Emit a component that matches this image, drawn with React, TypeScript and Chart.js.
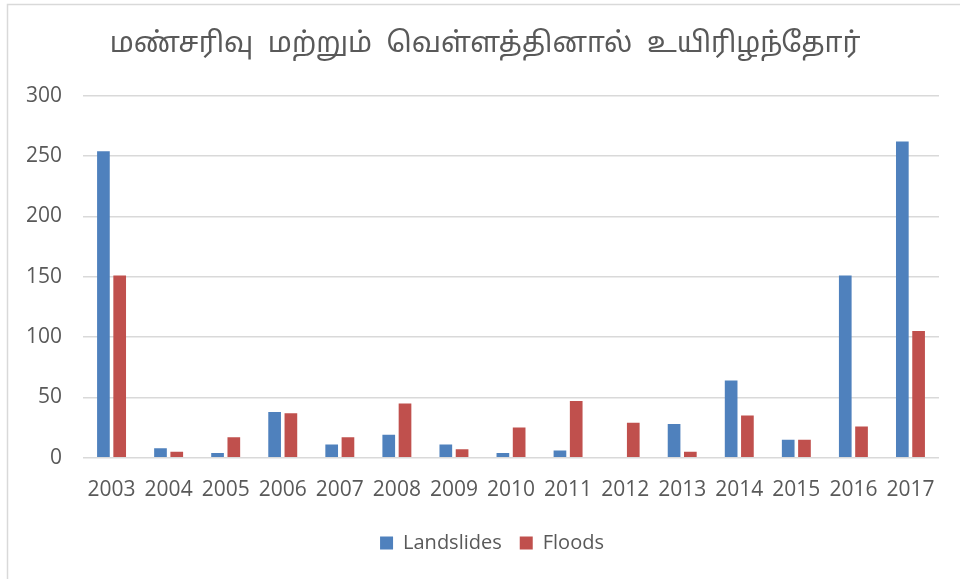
import React, { useEffect, useRef } from "react";
import { Chart, registerables } from "chart.js";

Chart.register(...registerables);

const title = "மண்சரிவு  மற்றும்  வெள்ளத்தினால்  உயிரிழந்தோர்";
const years = ["2003", "2004", "2005", "2006", "2007", "2008", "2009", "2010", "2011", "2012", "2013", "2014", "2015", "2016", "2017"];
const landslides = [254, 8, 4, 38, 11, 19, 11, 4, 6, 0, 28, 64, 15, 151, 262];
const floods = [151, 5, 17, 37, 17, 45, 7, 25, 47, 29, 5, 35, 15, 26, 105];
const yTicks = [0, 50, 100, 150, 200, 250, 300];

const borderPlugin = {
  id: "outerBorder",
  beforeDraw(chart: any) {
    const { ctx, width, height } = chart;
    ctx.save();
    ctx.fillStyle = "#ffffff";
    ctx.fillRect(0, 0, width, height);
    ctx.strokeStyle = "#d9d9d9";
    ctx.lineWidth = 1.5;
    ctx.beginPath();
    ctx.moveTo(7.5, height);
    ctx.lineTo(7.5, 4.5);
    ctx.lineTo(width, 4.5);
    ctx.stroke();
    ctx.restore();
    if (chart.legend && !chart.legend._shifted) {
      chart.legend.left += 20;
      chart.legend.right += 20;
      chart.legend._shifted = true;
    }
    if (chart.titleBlock && !chart.titleBlock._shifted) {
      chart.titleBlock.left += 13;
      chart.titleBlock.right += 13;
      chart.titleBlock._shifted = true;
    }
  },
};

export default function App() {
  const ref = useRef<HTMLCanvasElement>(null);
  useEffect(() => {
    document.body.style.margin = "0";
    const canvas = ref.current!;
    const font = "'Open Sans', 'Noto Sans', sans-serif";
    const chart = new Chart(canvas, {
      type: "bar",
      data: {
        labels: years,
        datasets: [
          { label: "Landslides", data: landslides, backgroundColor: "#4F81BD", barPercentage: 0.78, categoryPercentage: 0.57 },
          { label: "Floods", data: floods, backgroundColor: "#C0504D", barPercentage: 0.78, categoryPercentage: 0.57 },
        ],
      },
      options: {
        responsive: false,
        animation: false,
        layout: { padding: { left: 5, right: 21, top: 30, bottom: 16 } },
        plugins: {
          title: {
            display: true,
            text: title,
            color: "#595959",
            font: { family: "'Noto Sans Tamil', 'Noto Sans', sans-serif", size: 28, weight: "normal" },
            padding: { top: 0, bottom: 32 },
          },
          legend: {
            position: "bottom",
            labels: {
              color: "#595959",
              font: { family: font, size: 20 },
              boxWidth: 13,
              boxHeight: 13,
              padding: 18,
            },
          },
          tooltip: { enabled: false },
        },
        scales: {
          x: {
            grid: { display: false },
            border: { display: false },
            ticks: { color: "#595959", font: { family: font, size: 21 }, padding: 12, maxRotation: 0, autoSkip: false },
          },
          y: {
            min: 0,
            max: 300,
            afterBuildTicks: (scale: any) => {
              scale.ticks = yTicks.map((v) => ({ value: v }));
            },
            grid: { color: "#d9d9d9", lineWidth: 1.5, drawTicks: false },
            border: { display: false },
            ticks: { color: "#595959", font: { family: font, size: 21 }, padding: 21 },
          },
        },
      },
      plugins: [borderPlugin],
    });
    return () => chart.destroy();
  }, []);
  return <canvas ref={ref} width={960} height={579} style={{ display: "block" }} />;
}
